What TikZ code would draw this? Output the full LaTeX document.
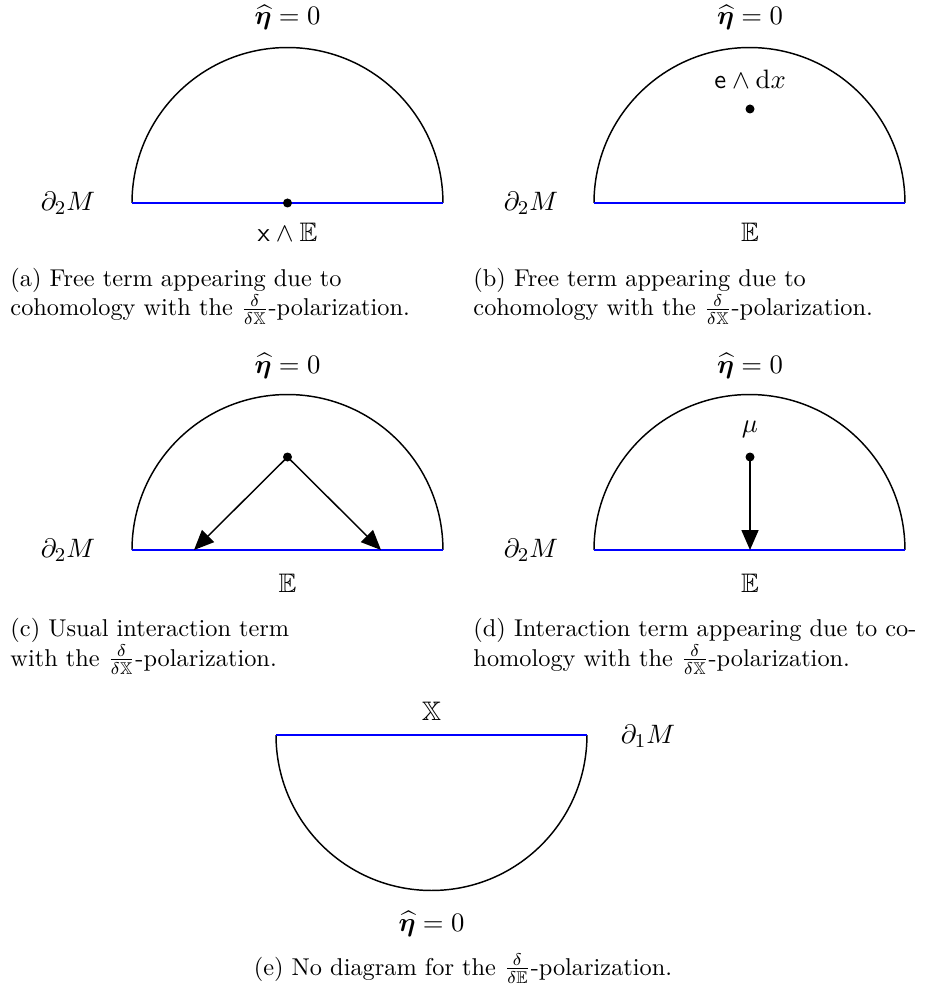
\documentclass[tikz,border=0pt]{standalone}
\usepackage{amsmath,amssymb,bm}
\usetikzlibrary{arrows.meta}
\begin{document}
\begin{tikzpicture}[x=0.411pt,y=0.411pt,
  bnd/.style={line width=0.6pt},
  blueline/.style={blue,line width=0.6pt},
  dotnode/.style={circle,fill=black,inner sep=0pt,minimum size=3.7pt},
  lab/.style={anchor=base,inner sep=0pt,font=\fontsize{11}{13.6}\selectfont},
  captext/.style={anchor=base west,align=left,inner sep=0pt},
  arr/.style={line width=0.6pt,-{Triangle[length=8.2pt,width=7pt]}}]
\useasboundingbox (0,0) rectangle (928,-995);
% ---------- (a)
\draw[bnd] (132,-203) arc[start angle=180,end angle=0,radius=63.9pt];
\draw[blueline] (132,-203) -- (443,-203);
\node[dotnode] (da) at (287.5,-203) {};
\node[lab] (ea) at (287.5,-25) {$\widehat{\bm{\eta}}=0$};
\node[lab] (ma) at (68,-210.5) {$\partial_2 M$};
\node[lab] (xa) at (287.5,-242) {$\mathsf{x}\wedge\mathbb{E}$};
\node[captext] (ca) at (10,-316) {(a) Free term appearing due to\\cohomology with the $\frac{\delta}{\delta\mathbb{X}}$-polarization.};
% ---------- (b)
\draw[bnd] (594,-203) arc[start angle=180,end angle=0,radius=63.9pt];
\draw[blueline] (594,-203) -- (905,-203);
\node[dotnode] (db) at (750,-109) {};
\node[lab] (eb) at (750,-25) {$\widehat{\bm{\eta}}=0$};
\node[lab] (lb) at (750,-89) {$\mathsf{e}\wedge\mathrm{d}x$};
\node[lab] (mb) at (531,-210.5) {$\partial_2 M$};
\node[lab] (xb) at (750,-242) {$\mathbb{E}$};
\node[captext] (cb) at (473,-316) {(b) Free term appearing due to\\cohomology with the $\frac{\delta}{\delta\mathbb{X}}$-polarization.};
% ---------- (c)
\draw[bnd] (132,-550) arc[start angle=180,end angle=0,radius=63.9pt];
\draw[blueline] (132,-550) -- (443,-550);
\node[dotnode] (dc) at (287.5,-457) {};
\coordinate (c1) at (194,-550);
\coordinate (c2) at (381,-550);
\draw[arr] (dc.center) -- (c1);
\draw[arr] (dc.center) -- (c2);
\node[lab] (ec) at (287.5,-373) {$\widehat{\bm{\eta}}=0$};
\node[lab] (mc) at (68,-557.5) {$\partial_2 M$};
\node[lab] (xc) at (287.5,-592) {$\mathbb{E}$};
\node[captext] (cc) at (10,-666) {(c) Usual interaction term\\with the $\frac{\delta}{\delta\mathbb{X}}$-polarization.};
% ---------- (d)
\draw[bnd] (594,-550) arc[start angle=180,end angle=0,radius=63.9pt];
\draw[blueline] (594,-550) -- (905,-550);
\node[dotnode] (dd) at (750,-457) {};
\coordinate (d1) at (750,-550);
\draw[arr] (dd.center) -- (d1);
\node[lab] (ed) at (750,-373) {$\widehat{\bm{\eta}}=0$};
\node[lab] (mud) at (750,-432) {$\mu$};
\node[lab] (md) at (531,-557.5) {$\partial_2 M$};
\node[lab] (xd) at (750,-592) {$\mathbb{E}$};
\node[captext] (cd) at (473,-666) {(d) Interaction term appearing due to co-\\homology with the $\frac{\delta}{\delta\mathbb{X}}$-polarization.};
% ---------- (e)
\draw[bnd] (276,-735) arc[start angle=180,end angle=360,radius=63.9pt];
\draw[blueline] (276,-735) -- (587,-735);
\node[lab] (xe) at (431.5,-720) {$\mathbb{X}$};
\node[lab] (me) at (648,-743) {$\partial_1 M$};
\node[lab] (ee) at (431.5,-931) {$\widehat{\bm{\eta}}=0$};
\node[captext,anchor=base] (ce) at (463,-975) {(e) No diagram for the $\frac{\delta}{\delta\mathbb{E}}$-polarization.};
\end{tikzpicture}
\end{document}
